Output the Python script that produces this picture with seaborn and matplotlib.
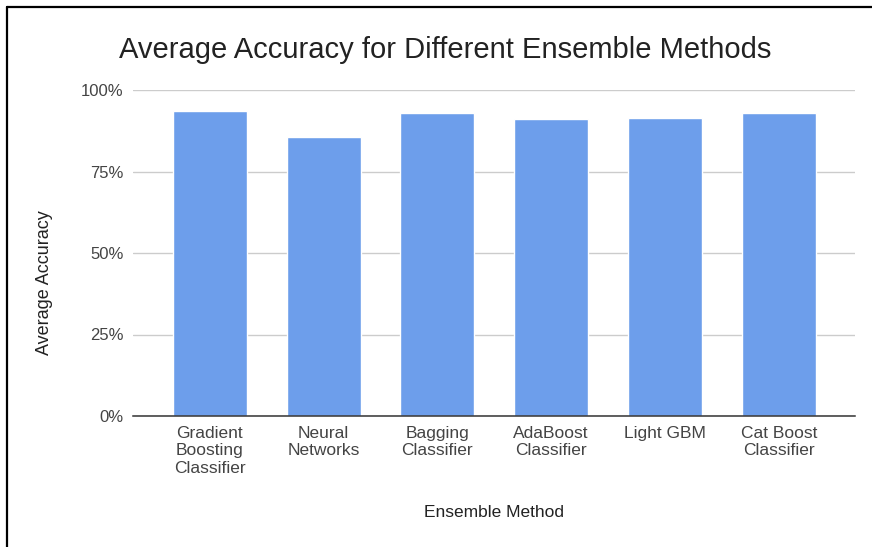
import matplotlib
matplotlib.use("Agg")
import matplotlib.pyplot as plt
from matplotlib.lines import Line2D
from matplotlib.ticker import FuncFormatter
import seaborn as sns
import pandas as pd

# Average accuracy (%) per ensemble method
methods = [
    "Gradient\nBoosting\nClassifier",
    "Neural\nNetworks",
    "Bagging\nClassifier",
    "AdaBoost\nClassifier",
    "Light GBM",
    "Cat Boost\nClassifier",
]
accuracy = [93.7, 85.7, 92.8, 91.0, 91.5, 92.8]
y_ticks = [0, 25, 50, 75, 100]

df = pd.DataFrame({"Ensemble Method": methods, "Average Accuracy": accuracy})

sns.set_theme(style="white")
plt.rcParams["font.family"] = ["Liberation Sans", "DejaVu Sans"]

fig = plt.figure(figsize=(8.72, 5.47), dpi=100)
ax = fig.add_axes([133 / 872, 1 - 416 / 547, 722 / 872, 326 / 547])

sns.barplot(data=df, x="Ensemble Method", y="Average Accuracy",
            color="#6d9eeb", saturation=1, width=0.65, ax=ax, zorder=3)

ax.set_ylim(0, 100)
ax.set_xlim(-0.675, 5.67)
ax.set_yticks(y_ticks)
ax.yaxis.set_major_formatter(FuncFormatter(lambda v, _: f"{v:.0f}%"))
ax.grid(axis="y", color="#cccccc", linewidth=1.0, zorder=0)
ax.set_axisbelow(True)
for s in ["top", "right", "left"]:
    ax.spines[s].set_visible(False)
ax.spines["bottom"].set_color("#333333")
ax.spines["bottom"].set_linewidth(1.1)
ax.spines["bottom"].set_zorder(4)

ax.tick_params(axis="both", length=0, labelcolor="#444444")
ax.tick_params(axis="y", pad=7, labelsize=12)
ax.tick_params(axis="x", pad=7, labelsize=12.5)
for lab in ax.get_xticklabels():
    lab.set_linespacing(1.2)

ax.set_xlabel("Ensemble Method", fontsize=12.5, color="#222222")
ax.set_ylabel("Average Accuracy", fontsize=13, color="#222222")
ax.xaxis.set_label_coords(0.5, -0.273)
ax.yaxis.set_label_coords(-0.111, 0.41)

fig.text(445 / 872, 1 - 58 / 547, "Average Accuracy for Different Ensemble Methods",
         ha="center", va="baseline", fontsize=21, color="#222222")

# Frame lines along the top and left edges
fig.add_artist(Line2D([7 / 872, 1], [1 - 7 / 547, 1 - 7 / 547],
                      transform=fig.transFigure, color="black", linewidth=1.6))
fig.add_artist(Line2D([7 / 872, 7 / 872], [0, 1 - 7 / 547],
                      transform=fig.transFigure, color="black", linewidth=1.6))

fig.savefig("out.png", dpi=100, facecolor="white")
